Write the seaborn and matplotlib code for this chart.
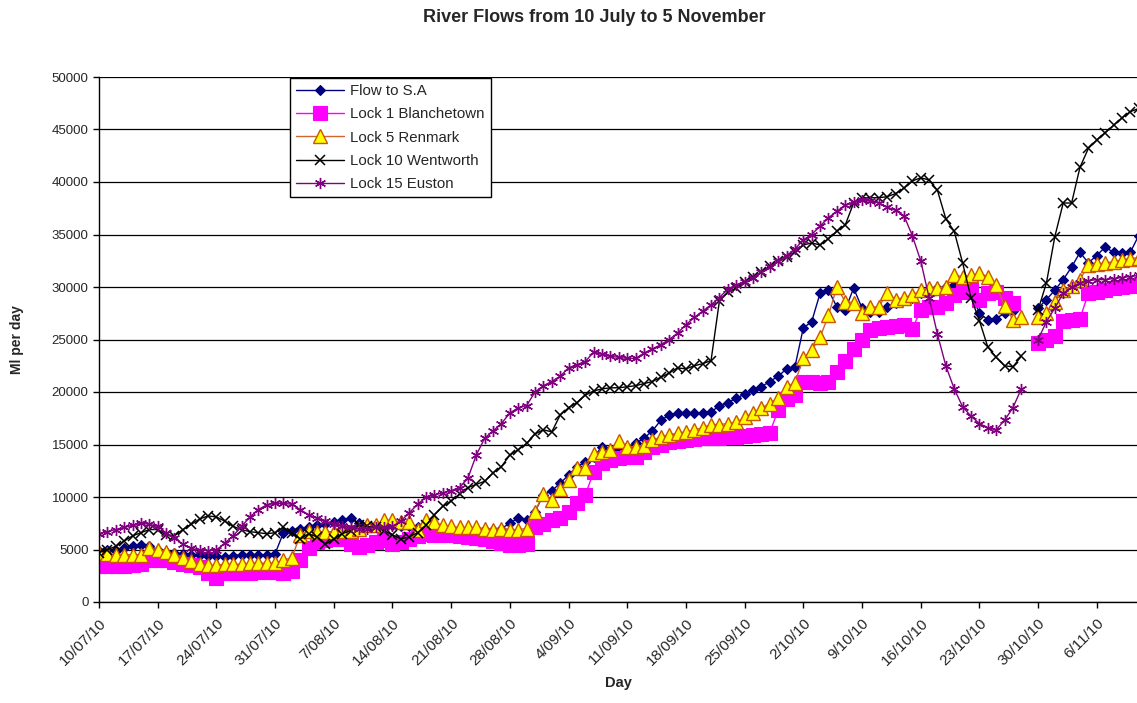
import numpy as np
import pandas as pd
import matplotlib
matplotlib.use("Agg")
import matplotlib.pyplot as plt
import seaborn as sns
from matplotlib.lines import Line2D

nan = np.nan
start_date = "2010-07-10"

flow_sa = [
    4900, 5000, 4900, 5100, 5300, 5400, 5300, 5000, 4800, 4700,
    4600, 4500, 4500, 4400, 4400, 4300, 4400, 4500, 4500, 4500,
    4500, 4600, 6600, 6800, 7000, 7100, 7300, 7400, 7600, 7800,
    8000, 7500, 7300, 7300, 7200, 7300, 7200, 7200, 7100, 7200,
    7000, 7000, 7000, 6900, 6900, 6800, 6900, 6900, 7000, 7500,
    8000, 7800, 8600, 10200, 10600, 11300, 12100, 12900, 13300, 13800,
    14800, 14500, 14700, 14800, 15100, 15600, 16300, 17300, 17800, 18000,
    18000, 18000, 18000, 18100, 18700, 19000, 19400, 19800, 20200, 20500,
    21000, 21500, 22200, 22400, 26100, 26700, 29400, 29700, 28100, 27800,
    29900, 28000, 27600, 27600, 28100, 28500, 28800, 29000, 29400, 29700,
    29900, 30000, 30200, 30000, 29400, 27500, 26900, 27000, 27500, 27700,
    nan, nan, 28000, 28800, 29700, 30700, 31900, 33300, 32300, 33000,
    33800, 33300, 33200, 33300, 34900,
]

lock1_blanchetown = [
    3400, 3400, 3400, 3400, 3500, 3600, 4000, 4000, 4000, 3800,
    3600, 3500, 3300, 2800, 2300, 2800, 2800, 2800, 2800, 2900,
    2900, 2900, 2800, 3000, 4000, 5100, 5700, 5900, 6000, 6000,
    5500, 5200, 5400, 5700, 5900, 5500, 5700, 6000, 6300, 6500,
    6400, 6400, 6400, 6300, 6200, 6100, 6000, 5800, 5600, 5400,
    5400, 5500, 7100, 7400, 7800, 8000, 8600, 9400, 10200, 12400,
    13200, 13500, 13700, 13800, 13800, 14300, 14800, 15000, 15200, 15300,
    15400, 15500, 15600, 15600, 15600, 15700, 15700, 15800, 15900, 16000,
    16100, 18300, 19300, 19700, 21000, 21000, 20900, 21000, 21900, 23000,
    24100, 25000, 25900, 26100, 26200, 26300, 26400, 26000, 27800, 28100,
    28100, 28500, 29200, 29500, 29700, 28800, 29400, 29500, 29000, 28500,
    nan, nan, 24700, 25000, 25300, 26800, 26900, 27000, 29400, 29500,
    29700, 29900, 30000, 30100, 30200,
]

lock5_renmark = [
    4700, 4600, 4500, 4500, 4500, 4500, 5100, 5000, 4800, 4500,
    4200, 3900, 3600, 3500, 3500, 3600, 3600, 3600, 3700, 3700,
    3700, 3700, 4000, 4200, 6400, 6800, 6700, 6700, 6700, 6800,
    6800, 7000, 7300, 7300, 7800, 7800, 7600, 7600, 6900, 7800,
    7600, 7300, 7200, 7100, 7100, 7100, 7000, 6900, 7000, 6900,
    6900, 7000, 8600, 10300, 9700, 10800, 11600, 12800, 12800, 14100,
    14300, 14500, 15300, 14800, 14800, 14900, 15400, 15700, 15900, 16100,
    16200, 16400, 16600, 16900, 16900, 17000, 17100, 17600, 18000, 18500,
    18900, 19400, 20500, 20900, 23200, 24000, 25200, 27300, 30000, 28600,
    28500, 27500, 28100, 28100, 29400, 28800, 29000, 29200, 29700, 29900,
    29900, 30000, 31100, 31000, 31100, 31300, 31000, 30200, 28200, 26900,
    27100, nan, 27100, 27500, 28600, 29700, 30100, 30700, 32100, 32200,
    32300, 32400, 32600, 32700, 32800,
]

lock10_wentworth = [
    4700, 5000, 5300, 5800, 6300, 6600, 6900, 6900, 6400, 6300,
    6900, 7400, 7900, 8200, 8100, 7700, 7200, 6900, 6700, 6600,
    6500, 6600, 7100, 6600, 6000, 6500, 6200, 5500, 6000, 6500,
    6800, 7300, 7200, 7100, 6800, 6400, 6000, 6200, 6600, 7300,
    8300, 9100, 9600, 10300, 10900, 11200, 11500, 12300, 12900, 14000,
    14500, 15100, 16000, 16400, 16200, 17800, 18500, 19000, 19700, 20100,
    20300, 20400, 20400, 20500, 20600, 20800, 21000, 21400, 21800, 22300,
    22200, 22500, 22700, 23000, 28700, 29500, 29900, 30500, 31000, 31400,
    32000, 32500, 32900, 33300, 34000, 34200, 34000, 34600, 35300, 35900,
    38000, 38500, 38500, 38500, 38600, 38900, 39400, 40100, 40400, 40200,
    39200, 36500, 35300, 32300, 29000, 26800, 24300, 23300, 22500, 22400,
    23400, nan, 27800, 30400, 34800, 38000, 38000, 41400, 43200, 44000,
    44700, 45400, 46100, 46700, 47000,
]

lock15_euston = [
    6500, 6700, 6900, 7100, 7300, 7500, 7400, 7200, 6600, 6100,
    5500, 5100, 4950, 4900, 4950, 5600, 6300, 7200, 8100, 8800,
    9250, 9400, 9400, 9300, 8800, 8300, 8000, 7700, 7400, 7200,
    7100, 7000, 7000, 7100, 7100, 7200, 7700, 8500, 9300, 10000,
    10200, 10400, 10600, 10900, 11800, 14000, 15600, 16300, 17000, 18000,
    18500, 18700, 20000, 20600, 21000, 21500, 22300, 22600, 22900, 23800,
    23600, 23400, 23300, 23200, 23200, 23700, 24100, 24500, 25000, 25600,
    26400, 27100, 27700, 28300, 29000, 29800, 30200, 30500, 30900, 31400,
    31900, 32500, 33000, 33600, 34500, 35000, 35800, 36600, 37200, 37800,
    38100, 38300, 38200, 38000, 37600, 37300, 36800, 34900, 32500, 29000,
    25500, 22500, 20300, 18600, 17700, 17000, 16600, 16400, 17300, 18500,
    20300, nan, 25000, 26700, 28000, 29400, 30000, 30400, 30600, 30700,
    30700, 30800, 30900, 31000, 31100,
]

series_names = ["Flow to S.A", "Lock 1 Blanchetown", "Lock 5 Renmark",
                "Lock 10 Wentworth", "Lock 15 Euston"]
series_values = [flow_sa, lock1_blanchetown, lock5_renmark,
                 lock10_wentworth, lock15_euston]

tick_labels = ["10/07/10", "17/07/10", "24/07/10", "31/07/10", "7/08/10",
               "14/08/10", "21/08/10", "28/08/10", "4/09/10", "11/09/10",
               "18/09/10", "25/09/10", "2/10/10", "9/10/10", "16/10/10",
               "23/10/10", "30/10/10", "6/11/10"]
y_ticks = [0, 5000, 10000, 15000, 20000, 25000, 30000, 35000, 40000, 45000, 50000]

styles = {
    "Flow to S.A": dict(color="#000080", marker="D", markersize=5,
                        markerfacecolor="#000080", markeredgecolor="#000080",
                        markeredgewidth=0.8),
    "Lock 1 Blanchetown": dict(color="#FF00FF", marker="s", markersize=10,
                               markerfacecolor="#FF00FF", markeredgecolor="#FF00FF",
                               markeredgewidth=0.8),
    "Lock 5 Renmark": dict(color="#CC6633", marker="^", markersize=9.5,
                           markerfacecolor="#FFFF00", markeredgecolor="#CC5500",
                           markeredgewidth=1.0),
    "Lock 10 Wentworth": dict(color="#000000", marker="x", markersize=7,
                              markerfacecolor="#000000", markeredgecolor="#000000",
                              markeredgewidth=1.1),
    "Lock 15 Euston": dict(color="#800080", marker=(6, 2, 0), markersize=8,
                           markerfacecolor="#800080", markeredgecolor="#800080",
                           markeredgewidth=1.0),
}

dates = pd.date_range(start_date, periods=len(flow_sa), freq="D")

sns.set_style("white")
plt.rcParams["font.family"] = ["Liberation Sans", "DejaVu Sans"]

fig = plt.figure(figsize=(11.37, 7.03), dpi=100)
ax = fig.add_axes([99 / 1137, 1 - 602 / 703, 1 - 99 / 1137, (602 - 77) / 703])

handles = []
for name, vals in zip(series_names, series_values):
    v = np.array(vals, dtype=float)
    seg = np.cumsum(np.isnan(v))
    df = pd.DataFrame({"date": dates, "value": v, "seg": seg}).dropna()
    st = styles[name]
    sns.lineplot(data=df, x="date", y="value", units="seg", estimator=None,
                 ax=ax, linewidth=1.0, legend=False, sort=True, **st)
    handles.append(Line2D([], [], linewidth=1.0, label=name, **st))

ax.set_ylim(0, 50000)
ax.set_yticks(y_ticks)
ax.set_yticklabels([str(t) for t in y_ticks])
ax.set_xlim(dates[0], dates[0] + pd.Timedelta(days=123.8))
tick_dates = [dates[0] + pd.Timedelta(days=7 * i) for i in range(len(tick_labels))]
ax.set_xticks(tick_dates)
ax.set_xticklabels(tick_labels, rotation=45, ha="right", rotation_mode="anchor")

ax.grid(axis="y", color="black", linewidth=0.9)
ax.grid(axis="x", visible=False)
ax.set_axisbelow(True)
for side in ["top", "right"]:
    ax.spines[side].set_visible(False)
for side in ["left", "bottom"]:
    ax.spines[side].set_color("black")
    ax.spines[side].set_linewidth(1.0)
ax.tick_params(axis="both", which="major", direction="out", length=4,
               width=1, color="black", bottom=True, left=True)
ax.tick_params(axis="y", labelsize=9.5)
ax.tick_params(axis="x", labelsize=11, pad=6)

ax.set_xlabel("Day", fontsize=10.5, fontweight="bold", labelpad=6)
ax.set_ylabel("Ml per day", fontsize=10, fontweight="bold", labelpad=20)
fig.suptitle("River Flows from 10 July to 5 November", fontsize=13,
             fontweight="bold", x=594 / 1137, y=1 - 17 / 703, va="center")

leg = ax.legend(handles=handles, loc="upper left",
                bbox_to_anchor=((290 - 99) / 1038, (602 - 78) / 525),
                fontsize=10.8, frameon=True, fancybox=False, framealpha=1,
                edgecolor="black", handlelength=3.2, labelspacing=0.62,
                borderpad=0.4, handletextpad=0.4, borderaxespad=0)
leg.get_frame().set_linewidth(1.0)

fig.savefig("out.png", dpi=100)
